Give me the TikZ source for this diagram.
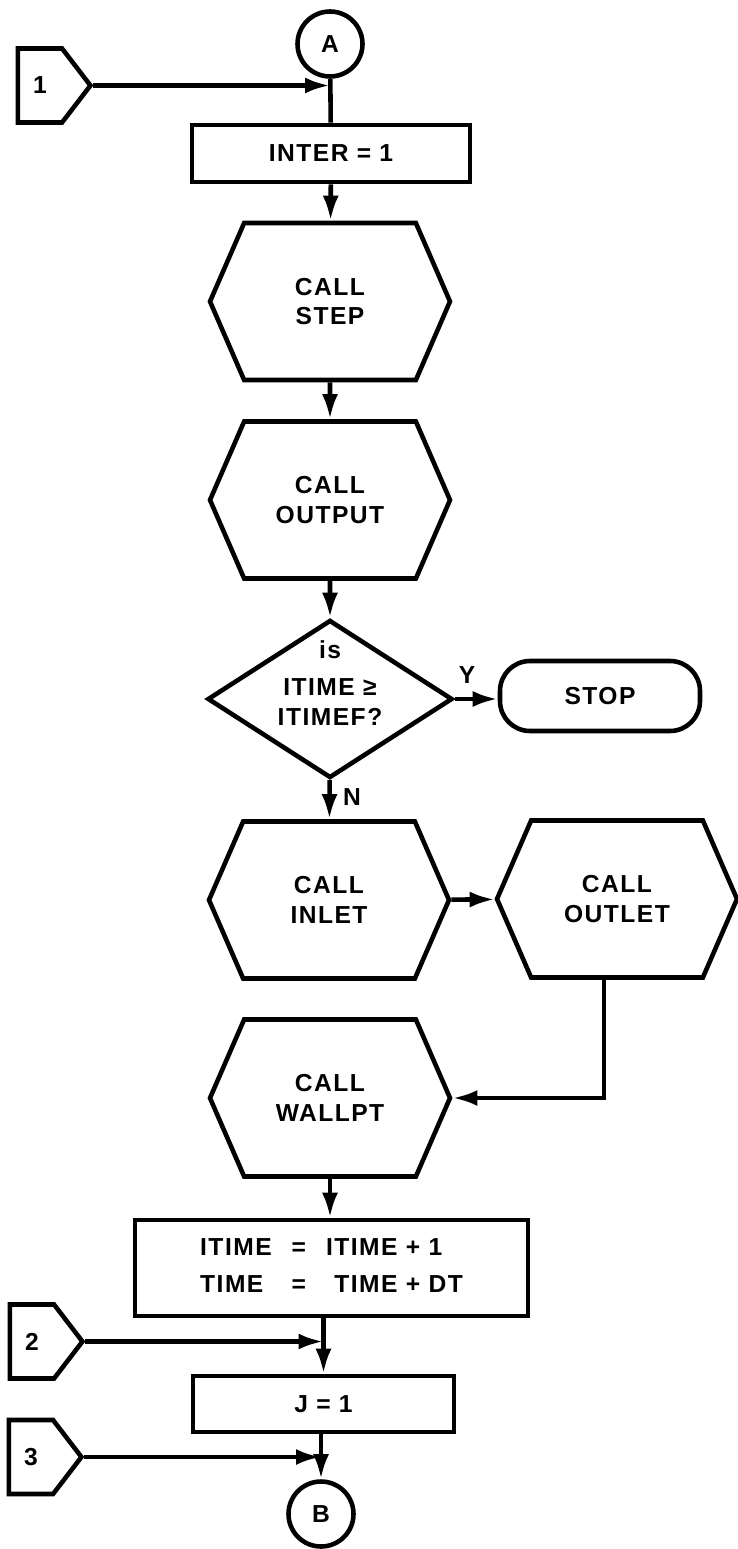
\documentclass[tikz,border=0pt]{standalone}
\usepackage{fontspec}
\setmainfont{Liberation Sans}[LetterSpace=6]
\usetikzlibrary{shapes, arrows.meta, positioning}
\tikzstyle{every node} = [font=\bfseries\fontsize{14}{17}\selectfont]
\tikzstyle{connector} = [circle, draw, line width=2.6pt, minimum size=1.3cm, inner sep=0pt]
\tikzstyle{entry} = [signal, signal to=east, signal pointer angle=105, draw, line width=2.6pt, minimum width=1.45cm, minimum height=1.48cm, inner sep=0pt]
\tikzstyle{process} = [rectangle, draw, line width=2.6pt]
\tikzstyle{call} = [signal, signal to=west and east, signal pointer angle=133, draw, line width=2.6pt, minimum width=4.8cm, minimum height=3.14cm, align=center]
\tikzstyle{decision} = [diamond, draw, line width=2.6pt, minimum width=4.9cm, minimum height=3.16cm, inner sep=0pt]
\tikzstyle{terminal} = [rectangle, rounded corners=0.6cm, draw, line width=2.6pt, minimum width=4cm, minimum height=1.4cm]
\tikzstyle{flow} = [-{Latex[length=0.5cm, width=0.32cm]}, line width=2.6pt]

\begin{document}
\begin{tikzpicture}
  \useasboundingbox (0,0) rectangle (14.76,-30.98);
  % Anschluesse
  \node[connector] (A) at (6.6,-0.88) {A};
  \node[entry] (in1) at (0.8,-1.71) {1};
  \node[entry] (in2) at (0.64,-26.83) {2};
  \node[entry] (in3) at (0.62,-29.14) {3};
  \node[connector] (B) at (6.42,-30.28) {B};

  % Ablauf
  \node[process, minimum width=5.56cm, minimum height=1.14cm] (inter) at (6.62,-3.07) {INTER = 1};
  \node[call] (step) at (6.6,-6.03) {CALL\\STEP};
  \node[call] (output) at (6.6,-10.0) {CALL\\OUTPUT};
  \node[decision] (test) at (6.6,-13.98) {};
  \node[align=center] (testtext) at (6.6,-13.66) {is\\[4pt]ITIME ≥\\ITIMEF?};
  \node[terminal] (stop) at (12,-13.92) {STOP};
  \node (yes) at (9.34,-13.5) {Y};
  \node (no) at (7.04,-15.94) {N};
  \node[call] (inlet) at (6.58,-18.0) {CALL\\INLET};
  \node[call] (outlet) at (12.34,-17.98) {CALL\\OUTLET};
  \node[call] (wallpt) at (6.6,-21.96) {CALL\\WALLPT};
  \node[process, minimum width=7.86cm, minimum height=1.92cm] (itime) at (6.63,-25.36)
    {\begin{tabular}{@{}l@{\hspace{0.4cm}}c@{\hspace{0.4cm}}r@{ + }l@{}}
       ITIME & = & ITIME & 1\\[4pt]
       TIME  & = & TIME  & DT
     \end{tabular}};
  \node[process, minimum width=5.22cm, minimum height=1.12cm] (jset) at (6.47,-28.08) {J = 1};

  % Verbindungen
  \draw[line width=2.6pt] (A) -- (inter);
  \draw[flow] (in1.east) -- (in1.east -| A.south);
  \draw[flow] (inter) -- (step);
  \draw[flow] (step) -- (output);
  \draw[flow] (output) -- (test);
  \draw[flow] (test.east) -- (test.east -| stop.west);
  \draw[flow] (test) -- (inlet);
  \draw[flow] (inlet) -- (outlet);
  \draw[flow] ([xshift=-0.26cm]outlet.south) |- (wallpt.east);
  \draw[flow] (wallpt.south) -- (wallpt.south |- itime.north);
  \draw[flow] (itime.south -| jset.north) -- (jset.north);
  \draw[flow] (in2.east) -- (in2.east -| jset.north);
  \draw[flow] (jset.south -| B.north) -- (B.north);
  \draw[flow] (in3.east) -- (in3.east -| B.north);
\end{tikzpicture}
\end{document}
